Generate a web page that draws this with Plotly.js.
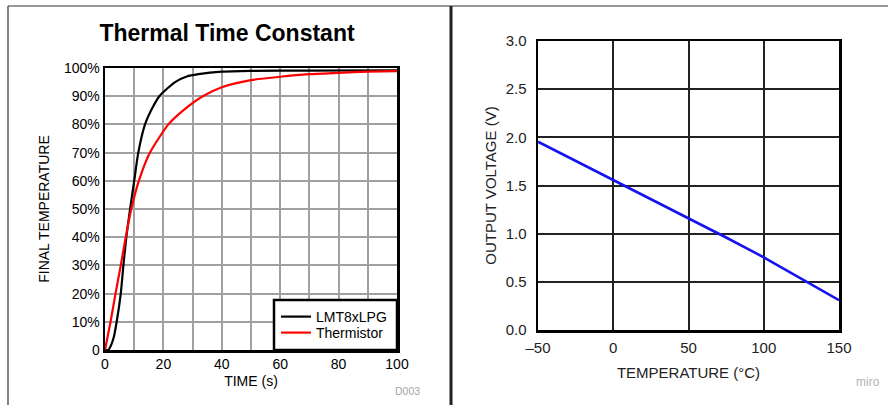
<!DOCTYPE html>
<html>
<head>
<meta charset="utf-8">
<script src="https://cdn.plot.ly/plotly-3.0.1.min.js"></script>
<style>html,body{margin:0;padding:0;background:#fff;}#chart{width:888px;height:405px;}</style>
</head>
<body>
<div id="chart"></div>
<script>
// ---- Left chart: Thermal Time Constant ----
const lmtTime = [0, 1.1, 2, 3, 4, 5.4, 6.3, 7.3, 8.6, 10, 11.4, 13.7, 15.8, 18.6, 24, 28, 32, 40, 50, 70, 100];
const lmtTemp = [0, 0, 1.5, 4.5, 10, 20, 30, 40, 50, 60, 70, 80, 85, 90, 95, 97, 97.8, 98.7, 99, 99.1, 99.2];
const thermTime = [0, 1.9, 3.6, 5.4, 7.1, 9.0, 11.6, 15.4, 21.7, 26.8, 33.5, 40, 50, 60, 70, 80, 90, 100];
const thermTemp = [0, 10, 20, 30, 40, 50, 60, 70, 80, 85, 90, 93.2, 95.7, 96.9, 97.8, 98.3, 98.7, 98.9];
const leftXTicks = [0, 10, 20, 30, 40, 50, 60, 70, 80, 90, 100];
const leftXLabels = ["0", "", "20", "", "40", "", "60", "", "80", "", "100"];
const leftYTicks = [0, 10, 20, 30, 40, 50, 60, 70, 80, 90, 100];
const leftYLabels = ["0", "10%", "20%", "30%", "40%", "50%", "60%", "70%", "80%", "90%", "100%"];

// ---- Right chart: Output voltage vs temperature ----
const tempC = [-50, -25, 0, 25, 50, 75, 100, 125, 150];
const outV = [1.955, 1.757, 1.558, 1.357, 1.158, 0.96, 0.755, 0.53, 0.31];
const rightXTicks = [-50, 0, 50, 100, 150];
const rightXLabels = ["\u201350", "0", "50", "100", "150"];
const rightYTicks = [0, 0.5, 1, 1.5, 2, 2.5, 3];
const rightYLabels = ["0.0", "0.5", "1.0", "1.5", "2.0", "2.5", "3.0"];

const W = 888, H = 405;
const px = v => v / W;
const py = v => 1 - v / H;
const FONT = "Liberation Sans, Arial, Helvetica, sans-serif";

const traces = [
  {x: lmtTime, y: lmtTemp, type: 'scatter', mode: 'lines', name: 'LMT8xLPG', legend: 'legend',
   line: {color: '#000000', width: 2.2, shape: 'spline', smoothing: 0.6}, xaxis: 'x', yaxis: 'y'},
  {x: thermTime, y: thermTemp, type: 'scatter', mode: 'lines', name: 'Thermistor', legend: 'legend2',
   line: {color: '#ff0000', width: 2.2, shape: 'spline', smoothing: 0.6}, xaxis: 'x', yaxis: 'y'},
  {x: tempC, y: outV, type: 'scatter', mode: 'lines', name: 'Output', showlegend: false,
   line: {color: '#1414f0', width: 2.6}, xaxis: 'x2', yaxis: 'y2'}
];

const legendBase = {
  xanchor: 'left', yanchor: 'middle', bgcolor: 'rgba(0,0,0,0)', borderwidth: 0,
  font: {size: 14, color: '#000'}, itemwidth: 30
};

const layout = {
  width: W, height: H,
  margin: {l: 0, r: 0, t: 0, b: 0},
  paper_bgcolor: '#ffffff', plot_bgcolor: '#ffffff',
  font: {family: FONT, color: '#000000', size: 14},
  showlegend: true,
  title: {text: '<b>Thermal Time Constant</b>', font: {family: FONT, size: 23, color: '#000'},
          x: px(227), xref: 'paper', xanchor: 'center', y: py(33), yref: 'container', yanchor: 'middle'},
  xaxis: {
    domain: [px(105), px(397)], range: [0, 100], anchor: 'y',
    tickvals: leftXTicks, ticktext: leftXLabels, ticks: '', showgrid: true, gridcolor: '#a0a0a0', gridwidth: 2,
    showline: true, mirror: true, linecolor: '#000', linewidth: 2.5, zeroline: false,
    tickfont: {size: 14, color: '#000'},
    title: {text: 'TIME (s)', font: {size: 14, color: '#000'}, standoff: 5}
  },
  yaxis: {
    domain: [py(350), py(68)], range: [0, 100], anchor: 'x',
    tickvals: leftYTicks, ticktext: leftYLabels, ticks: '', showgrid: true, gridcolor: '#a0a0a0', gridwidth: 2,
    showline: true, mirror: true, linecolor: '#000', linewidth: 2.5, zeroline: false,
    tickfont: {size: 14, color: '#000'},
    title: {text: 'FINAL TEMPERATURE', font: {size: 14, color: '#000'}, standoff: 11}
  },
  xaxis2: {
    domain: [px(538), px(839)], range: [-50, 150], anchor: 'y2',
    tickvals: rightXTicks, ticktext: rightXLabels, ticks: '', showgrid: true, gridcolor: '#222', gridwidth: 2,
    showline: true, mirror: true, linecolor: '#000', linewidth: 2.5, zeroline: false,
    ticklabelstandoff: 2,
    tickfont: {size: 15, color: '#222'},
    title: {text: 'TEMPERATURE (\u00b0C)', font: {size: 15, color: '#222'}, standoff: 13}
  },
  yaxis2: {
    domain: [py(330), py(41)], range: [0, 3], anchor: 'x2',
    tickvals: rightYTicks, ticktext: rightYLabels, ticks: '', showgrid: true, gridcolor: '#222', gridwidth: 2,
    showline: true, mirror: true, linecolor: '#000', linewidth: 2.5, zeroline: false,
    ticklabelstandoff: 6,
    tickfont: {size: 15, color: '#222'},
    title: {text: 'OUTPUT VOLTAGE (V)', font: {size: 15, color: '#222'}, standoff: 6}
  },
  legend: Object.assign({}, legendBase, {x: px(276), y: py(317)}),
  legend2: Object.assign({}, legendBase, {x: px(276), y: py(333)}),
  shapes: [
    {type: 'rect', xref: 'paper', yref: 'paper', x0: px(274), x1: px(397), y0: py(300), y1: py(350),
     fillcolor: '#ffffff', line: {color: '#000', width: 2.5}, layer: 'above'},
    {type: 'line', xref: 'paper', yref: 'paper', x0: px(8), x1: px(8), y0: py(6), y1: py(410), line: {color: '#333', width: 1.2}},
    {type: 'line', xref: 'paper', yref: 'paper', x0: px(8), x1: px(888), y0: py(6), y1: py(6), line: {color: '#333', width: 1.2}},
    {type: 'line', xref: 'paper', yref: 'paper', x0: px(451), x1: px(451), y0: py(6), y1: py(410), line: {color: '#222', width: 3}}
  ],
  annotations: [
    {text: 'D003', xref: 'paper', yref: 'paper', x: px(407), y: py(391), xanchor: 'center', yanchor: 'middle',
     showarrow: false, font: {size: 10.5, color: '#a6a6a6'}},
    {text: 'miro', xref: 'paper', yref: 'paper', x: px(868), y: py(382), xanchor: 'center', yanchor: 'middle',
     showarrow: false, font: {size: 12, color: '#b4b4b4'}}
  ]
};

Plotly.newPlot('chart', traces, layout, {displayModeBar: false, staticPlot: true});
</script>
</body>
</html>
